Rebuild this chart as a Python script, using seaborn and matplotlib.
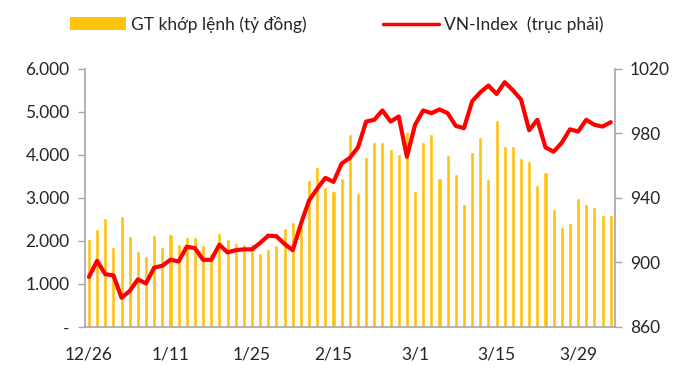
"""
GT khop lenh vs VN-Index chart
"""

import numpy as np
import pandas as pd
import matplotlib
matplotlib.use('Agg')
import matplotlib.pyplot as plt
from matplotlib.patches import Patch
from matplotlib.lines import Line2D
import seaborn as sns


# matched value, bn VND (65 sessions)
turnover = [2040, 2280, 2530, 1860, 2570, 2110, 1760, 1650, 2140, 1860,
            2170, 1930, 2080, 2080, 1910, 1730, 2180, 2040, 1950, 1930,
            1930, 1730, 1810, 1910, 2300, 2450, 2350, 3420, 3720, 3250,
            3150, 3470, 4480, 3110, 3950, 4290, 4290, 4130, 4030, 4520,
            3160, 4310, 4490, 3460, 3990, 3550, 2850, 4070, 4420, 3450,
            4810, 4210, 4210, 3920, 3850, 3310, 3600, 2750, 2330, 2420,
            3000, 2860, 2780, 2610, 2610]

# VN-Index close (right axis)
vnindex = [891.0, 901.0, 892.7, 892.0, 878.1, 882.3, 889.5, 887.0, 896.8, 897.9,
           901.7, 900.6, 909.7, 908.9, 901.6, 901.6, 911.0, 906.2, 907.6, 908.1,
           908.1, 912.1, 916.6, 916.2, 911.4, 907.6, 923.9, 938.4, 945.7, 952.4,
           949.9, 961.3, 964.8, 971.3, 987.3, 988.4, 994.2, 987.3, 990.5, 965.5,
           985.3, 994.2, 992.5, 994.8, 992.5, 984.6, 983.2, 999.8, 1005.4, 1009.6,
           1004.4, 1011.7, 1006.7, 1000.9, 981.9, 988.4, 971.3, 968.6, 974.2, 982.5,
           981.1, 988.4, 985.3, 984.2, 986.9]

tick_labels = ['12/26', '1/11', '1/25', '2/15', '3/1', '3/15', '3/29']
tick_step = 10

left_ticks = [0, 1000, 2000, 3000, 4000, 5000, 6000]
left_labels = ['-', '1.000', '2.000', '3.000', '4.000', '5.000', '6.000']
right_ticks = [860, 900, 940, 980, 1020]

bar_color = '#FFC20E'
line_color = '#FF0000'
axis_color = '#A6A6A6'

sns.set_style('white')
plt.rcParams['font.family'] = ['Lato', 'DejaVu Sans']

df = pd.DataFrame({'idx': np.arange(len(turnover)),
                   'turnover': turnover,
                   'vnindex': vnindex})

fig = plt.figure(figsize=(6.9, 3.78), dpi=100)
ax = fig.add_axes([0.123, 0.135, 0.768, 0.683])

sns.barplot(data=df, x='idx', y='turnover', color=bar_color, width=0.5,
            saturation=1, ax=ax)
ax.set_ylim(0, 6000)
ax.set_yticks(left_ticks)
ax.set_yticklabels(left_labels)
ax.set_xlim(-0.5, len(turnover) - 0.5)

ax2 = ax.twinx()
sns.lineplot(data=df, x='idx', y='vnindex', color=line_color, linewidth=3.0,
             solid_joinstyle='round', solid_capstyle='round', ax=ax2)
ax2.set_ylim(860, 1020)
ax2.set_yticks(right_ticks)
ax2.set_xlim(-0.5, len(turnover) - 0.5)

# x labels every 10 sessions, tick marks between categories
pos = np.arange(0, len(turnover), tick_step)
ax.set_xticks(pos)
ax.set_xticklabels(tick_labels)
ax.set_xticks(pos - 0.5, minor=True)
ax.tick_params(axis='x', which='major', length=0, pad=14, labelsize=12.5)
ax.tick_params(axis='x', which='minor', length=5, width=1, color=axis_color,
               direction='out')

for a in (ax, ax2):
    a.set_xlabel('')
    a.set_ylabel('')
    a.spines['top'].set_visible(False)
    for s in ('left', 'right', 'bottom'):
        a.spines[s].set_color(axis_color)
        a.spines[s].set_linewidth(1.2)

ax.spines['right'].set_visible(False)
ax2.spines['left'].set_visible(False)
ax2.spines['bottom'].set_visible(False)
ax.tick_params(axis='y', left=True, length=5, width=1, color=axis_color,
               direction='out', labelsize=12.5, pad=6)
ax2.tick_params(axis='y', right=True, length=5, width=1, color=axis_color,
                direction='out', labelsize=12.5, pad=6)

handles = [Patch(facecolor=bar_color, edgecolor='none'),
           Line2D([0], [0], color=line_color, linewidth=2.5)]
fig.legend(handles, ['GT khớp lệnh (tỷ đồng)', 'VN-Index  (trục phải)'],
           loc='upper center', bbox_to_anchor=(0.488, 1.0), ncol=2,
           frameon=False, fontsize=12.5, handlelength=3.2, columnspacing=4.4,
           handletextpad=0.3)

plt.savefig('out.png', dpi=100)
